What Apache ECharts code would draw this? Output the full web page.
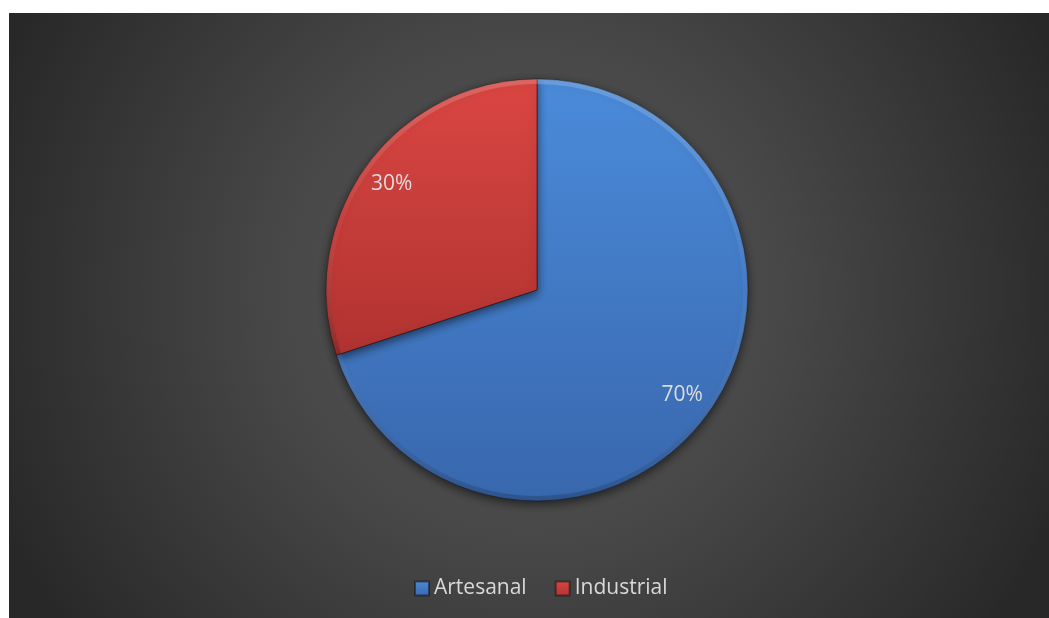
<!DOCTYPE html>
<html>
<head>
<meta charset="utf-8">
<script src="https://cdn.jsdelivr.net/npm/echarts@6/dist/echarts.min.js"></script>
<style>
  html, body { margin: 0; padding: 0; background: #ffffff; }
  #chart { position: absolute; left: 9px; top: 13px; width: 1040px; height: 605px; }
</style>
</head>
<body>
<div id="chart"></div>
<script>
// Share of production by type
const categories = ['Artesanal', 'Industrial'];
const shares = [70, 30];

const sliceFills = [
  { top: '#4b8bda', bottom: '#3867ad' },   // Artesanal
  { top: '#da4642', bottom: '#b03331' }    // Industrial
];

const chart = echarts.init(document.getElementById('chart'));

const pieData = categories.map((name, i) => ({
  name,
  value: shares[i],
  itemStyle: {
    color: new echarts.graphic.LinearGradient(0, 0, 0, 1, [
      { offset: 0, color: sliceFills[i].top },
      { offset: 1, color: sliceFills[i].bottom }
    ])
  }
}));

const center = [528, 277];
const outer = 211;

chart.setOption({
  backgroundColor: {
    type: 'radial', x: 0.5, y: 0.46, r: 0.95,
    colorStops: [
      { offset: 0, color: '#585858' },
      { offset: 0.45, color: '#474747' },
      { offset: 1, color: '#282828' }
    ]
  },
  animation: false,
  legend: {
    data: categories,
    top: 560,
    left: 400,
    icon: 'rect',
    itemWidth: 14,
    itemHeight: 14,
    itemGap: 28,
    textStyle: { fontFamily: 'Open Sans', fontSize: 21, color: '#d9d9d9' }
  },
  series: [
    {
      type: 'pie',
      center: center,
      radius: [0, outer],
      startAngle: 90,
      clockwise: true,
      data: pieData,
      label: { show: false },
      labelLine: { show: false },
      itemStyle: {
        borderColor: 'rgba(20,20,20,0.55)',
        borderWidth: 1,
        shadowColor: 'rgba(0,0,0,0.55)',
        shadowBlur: 10,
        shadowOffsetY: 3
      },
      emphasis: { disabled: true }
    },
    {
      // bevel highlight ring along the rim
      type: 'pie',
      center: center,
      radius: [outer - 5, outer],
      startAngle: 90,
      clockwise: true,
      silent: true,
      data: categories.map((name, i) => ({ name, value: shares[i] })),
      itemStyle: {
        color: new echarts.graphic.LinearGradient(0, 0, 0, 1, [
          { offset: 0, color: 'rgba(255,255,255,0.18)' },
          { offset: 0.5, color: 'rgba(255,255,255,0.04)' },
          { offset: 1, color: 'rgba(0,0,0,0.18)' }
        ]),
        borderWidth: 0
      },
      label: { show: false },
      labelLine: { show: false },
      emphasis: { disabled: true }
    },
    {
      // percentage labels
      type: 'pie',
      center: center,
      radius: [142, outer],
      startAngle: 90,
      clockwise: true,
      silent: true,
      data: categories.map((name, i) => ({ name, value: shares[i] })),
      itemStyle: { color: 'rgba(0,0,0,0)', borderWidth: 0 },
      label: {
        show: true,
        position: 'inside',
        formatter: '{d}%',
        fontFamily: 'Open Sans',
        fontSize: 21,
        color: '#dcdcdc'
      },
      labelLine: { show: false },
      emphasis: { disabled: true }
    }
  ]
});
</script>
</body>
</html>
